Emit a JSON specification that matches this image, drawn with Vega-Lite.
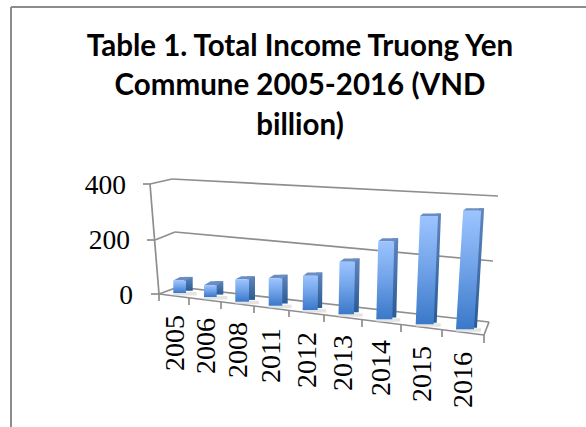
{
"$schema":"https://vega.github.io/schema/vega-lite/v6.json",
"width":586,"height":427,"padding":0,"autosize":{"type":"none"},
"background":"white",
"title":{"text":["Table 1. Total Income Truong Yen","Commune 2005-2016 (VND","billion)"],"font":"Lato","fontSize":29.5,"fontWeight":"bold","lineHeight":39.5,"color":"#000000","anchor":"middle","baseline":"top","align":"center","dx":7,"dy":141,"offset":0},
"config":{"view":{"stroke":null}},
"params":[
{"name":"years","value":["2005","2006","2008","2011","2012","2013","2014","2015","2016"]},
{"name":"xbL","value":[173.3,204,235.3,268.7,302.7,338.5,376.3,415.7,456]},
{"name":"xbR","value":[186,216.7,249,282.3,317.7,354,392.3,433.7,474]},
{"name":"yb","value":[293,297,301.7,305.7,310,314.3,319.3,324.3,329.3]},
{"name":"kpx","value":[0.27,0.275,0.28,0.285,0.29,0.30,0.31,0.335,0.34]},
{"name":"tilt","value":[0,0,0,0,0.01,0.02,0.025,0.04,0.06]},
{"name":"sideW","value":[6.7,6.6,6,5.4,4.4,4.7,4,3,3]},
{"name":"capH","value":[3.7,4,3,3.6,3.4,3.4,3,2.7,2.4]},
{"name":"labX","value":[176,207,239,272,308,344,382,423,464]},
{"name":"labY","value":[315,318,322,328,332,335,340,346,352]},
{"name":"levX","value":{"0":133,"200":130,"400":126}},
{"name":"levY","value":{"0":296,"200":241.5,"400":186}},
{"name":"nodes","value":{
"c0":[11,7],"c1":[586,7],"c2":[11,427],
"t400":[143,184],"a400":[150,184],"b400":[172,179],"e400":[498,196],
"t200":[147,240],"a200":[155,240],"b200":[175,232],"e200":[493,261],
"t0":[151,294],"a0":[159,294],"b0":[178,287],"e0":[489,322],"fe":[484,335],
"k0":[159,301],"u1":[189,298],"k1":[189,305],"u2":[221,302],"k2":[221,309],"u3":[254,306],"k3":[254,313],"u4":[289,310.4],"k4":[289,317],
"u5":[324,314.8],"k5":[324,322],"u6":[362,319.6],"k6":[362,327],"u7":[401,324.5],"k7":[401,332],"u8":[442,329.7],"k8":[442,337],"k9":[484,343]
}}
],
"datasets":{
"bars":[
{"year":"2005","income":46},{"year":"2006","income":43},{"year":"2008","income":80},{"year":"2011","income":96},{"year":"2012","income":118},{"year":"2013","income":175},{"year":"2014","income":252},{"year":"2015","income":323},{"year":"2016","income":349}
],
"levels":[{"level":0},{"level":200},{"level":400}],
"frame":[
{"edge":"bt","node":"c0"},{"edge":"bt","node":"c1"},{"edge":"bl","node":"c0"},{"edge":"bl","node":"c2"}
],
"axes":[
{"edge":"a","node":"t400"},{"edge":"a","node":"a400"},{"edge":"b","node":"a400"},{"edge":"b","node":"b400"},{"edge":"c","node":"b400"},{"edge":"c","node":"e400"},
{"edge":"d","node":"t200"},{"edge":"d","node":"a200"},{"edge":"e","node":"a200"},{"edge":"e","node":"b200"},{"edge":"f","node":"b200"},{"edge":"f","node":"e200"},
{"edge":"g","node":"t0"},{"edge":"g","node":"a0"},{"edge":"h","node":"a400"},{"edge":"h","node":"a0"},{"edge":"i","node":"a0"},{"edge":"i","node":"b0"},{"edge":"j","node":"b0"},{"edge":"j","node":"e0"},{"edge":"l","node":"e0"},{"edge":"l","node":"fe"},{"edge":"m","node":"a0"},{"edge":"m","node":"fe"},
{"edge":"n0","node":"a0"},{"edge":"n0","node":"k0"},{"edge":"n1","node":"u1"},{"edge":"n1","node":"k1"},{"edge":"n2","node":"u2"},{"edge":"n2","node":"k2"},{"edge":"n3","node":"u3"},{"edge":"n3","node":"k3"},{"edge":"n4","node":"u4"},{"edge":"n4","node":"k4"},{"edge":"n5","node":"u5"},{"edge":"n5","node":"k5"},{"edge":"n6","node":"u6"},{"edge":"n6","node":"k6"},{"edge":"n7","node":"u7"},{"edge":"n7","node":"k7"},{"edge":"n8","node":"u8"},{"edge":"n8","node":"k8"},{"edge":"n9","node":"fe"},{"edge":"n9","node":"k9"}
]
},
"layer":[
{"data":{"name":"frame"},
"transform":[{"calculate":"nodes[datum.node][0]","as":"px"},{"calculate":"(294-nodes[datum.node][1])/0.275","as":"v"}],
"mark":{"type":"line","stroke":"#8c8c8c","strokeWidth":2},
"encoding":{"x":{"field":"px","type":"quantitative","scale":{"domain":[0,586],"nice":false,"zero":false},"axis":null},
"y":{"field":"v","type":"quantitative","scale":{"domain":[-483.636,1069.09],"nice":false,"zero":false},"axis":null},
"detail":{"field":"edge"}}},
{"data":{"name":"axes"},
"transform":[{"calculate":"nodes[datum.node][0]","as":"px"},{"calculate":"(294-nodes[datum.node][1])/0.275","as":"v"}],
"mark":{"type":"line","stroke":"#8e8e8e","strokeWidth":1.7},
"encoding":{"x":{"field":"px","type":"quantitative"},"y":{"field":"v","type":"quantitative"},"detail":{"field":"edge"}}},
{"data":{"name":"levels"},
"transform":[{"calculate":"levX[datum.level]","as":"lx"},{"calculate":"(294-levY[datum.level])/0.275","as":"v"}],
"mark":{"type":"text","align":"right","baseline":"middle","font":"Liberation Serif","fontSize":27.5,"fill":"#000000"},
"encoding":{"x":{"field":"lx","type":"quantitative"},"y":{"field":"v","type":"quantitative"},"text":{"field":"level","type":"quantitative","format":"d"}}},
{"data":{"name":"bars"},
"transform":[{"calculate":"indexof(years,datum.year)","as":"i"},{"calculate":"['base','top']","as":"end"},{"flatten":["end"]},
{"calculate":"(294-(yb[datum.i]+(datum.end=='base'?-1:2.5)))/0.275","as":"v"},
{"calculate":"xbL[datum.i]","as":"x1"},{"calculate":"xbR[datum.i]+sideW[datum.i]+4","as":"x2"}],
"mark":{"type":"area","orient":"horizontal","fill":"#d8d8d8","opacity":0.7},
"encoding":{"x":{"field":"x1","type":"quantitative","stack":null},"x2":{"field":"x2"},"y":{"field":"v","type":"quantitative"},"detail":{"field":"year"}}},
{"data":{"name":"bars"},
"transform":[{"calculate":"indexof(years,datum.year)","as":"i"},{"calculate":"datum.income*kpx[datum.i]","as":"H"},{"calculate":"['base','top']","as":"end"},{"flatten":["end"]},
{"calculate":"datum.end=='base'?yb[datum.i]-capH[datum.i]*0.6:yb[datum.i]-datum.H-capH[datum.i]","as":"py"},
{"calculate":"(294-datum.py)/0.275","as":"v"},
{"calculate":"xbR[datum.i]-2+(datum.end=='top'?tilt[datum.i]*datum.H:0)","as":"x1"},{"calculate":"datum.x1+2+sideW[datum.i]","as":"x2"}],
"mark":{"type":"area","orient":"horizontal","fill":{"gradient":"linear","x1":0,"y1":0,"x2":0,"y2":1,"stops":[{"offset":0,"color":"#5f86bd"},{"offset":1,"color":"#2a5a94"}]}},
"encoding":{"x":{"field":"x1","type":"quantitative","stack":null},"x2":{"field":"x2"},"y":{"field":"v","type":"quantitative"},"detail":{"field":"year"}}},
{"data":{"name":"bars"},
"transform":[{"calculate":"indexof(years,datum.year)","as":"i"},{"calculate":"datum.income*kpx[datum.i]","as":"H"},{"calculate":"['base','top']","as":"end"},{"flatten":["end"]},
{"calculate":"yb[datum.i]-datum.H-(datum.end=='top'?capH[datum.i]:0)","as":"py"},
{"calculate":"(294-datum.py)/0.275","as":"v"},
{"calculate":"xbL[datum.i]+tilt[datum.i]*datum.H+(datum.end=='top'?sideW[datum.i]:0)","as":"x1"},{"calculate":"xbR[datum.i]+tilt[datum.i]*datum.H+(datum.end=='top'?sideW[datum.i]:0)","as":"x2"}],
"mark":{"type":"area","orient":"horizontal","fill":"#6a8dc2"},
"encoding":{"x":{"field":"x1","type":"quantitative","stack":null},"x2":{"field":"x2"},"y":{"field":"v","type":"quantitative"},"detail":{"field":"year"}}},
{"data":{"name":"bars"},
"transform":[{"calculate":"indexof(years,datum.year)","as":"i"},{"calculate":"datum.income*kpx[datum.i]","as":"H"},{"calculate":"['base','top']","as":"end"},{"flatten":["end"]},
{"calculate":"datum.end=='base'?yb[datum.i]:yb[datum.i]-datum.H","as":"py"},
{"calculate":"(294-datum.py)/0.275","as":"v"},
{"calculate":"xbL[datum.i]+(datum.end=='top'?tilt[datum.i]*datum.H:0)","as":"x1"},{"calculate":"xbR[datum.i]+(datum.end=='top'?tilt[datum.i]*datum.H:0)","as":"x2"}],
"mark":{"type":"area","orient":"horizontal","fill":{"gradient":"linear","x1":0,"y1":0,"x2":0,"y2":1,"stops":[{"offset":0,"color":"#9cc4ff"},{"offset":0.45,"color":"#74a5ea"},{"offset":1,"color":"#3a78c9"}]}},
"encoding":{"x":{"field":"x1","type":"quantitative","stack":null},"x2":{"field":"x2"},"y":{"field":"v","type":"quantitative"},"detail":{"field":"year"}}},
{"data":{"name":"bars"},
"transform":[{"calculate":"indexof(years,datum.year)","as":"i"},{"calculate":"labX[datum.i]","as":"lx"},{"calculate":"(294-labY[datum.i])/0.275","as":"ly"}],
"mark":{"type":"text","angle":270,"align":"right","baseline":"middle","font":"Liberation Serif","fontSize":28,"fill":"#000000"},
"encoding":{"x":{"field":"lx","type":"quantitative"},"y":{"field":"ly","type":"quantitative"},"text":{"field":"year"}}}
]
}
